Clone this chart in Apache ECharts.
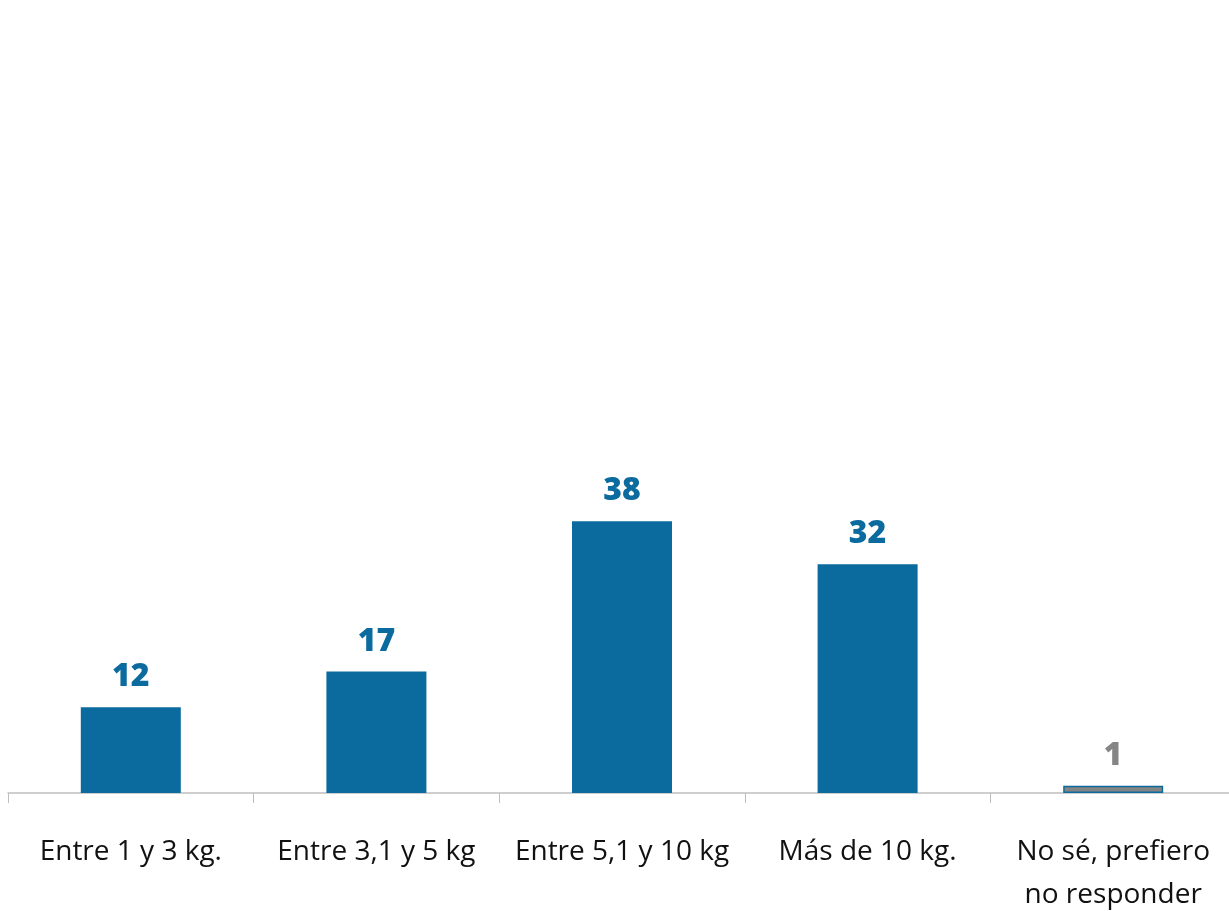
<!DOCTYPE html>
<html>
<head>
<meta charset="utf-8">
<script src="https://cdn.jsdelivr.net/npm/echarts@6/dist/echarts.min.js"></script>
<style>
  html, body { margin: 0; padding: 0; background: #fff; }
  #chart { width: 1229px; height: 911px; }
</style>
</head>
<body>
<div id="chart"></div>
<script>
// datos del gráfico
const categories = ['Entre 1 y 3 kg.', 'Entre 3,1 y 5 kg', 'Entre 5,1 y 10 kg', 'Más de 10 kg.', 'No sé, prefiero\nno responder'];
const values = [12, 17, 38, 32, 1];

const blue = '#0B6A9E';
const grey = '#858585';

const seriesData = values.map((v, i) => {
    if (i === values.length - 1) {
        return {
            value: v,
            itemStyle: {color: grey, borderColor: blue, borderWidth: 1.5},
            label: {color: grey}
        };
    }
    return v;
});

let myChart = echarts.init(document.getElementById('chart'));
myChart.setOption({
    animation: false,
    grid: {left: 8, top: 78, width: 1228, bottom: 118, containLabel: false, outerBoundsMode: 'none'},
    xAxis: {
        type: 'category',
        data: categories,
        axisLine: {lineStyle: {color: '#BFBFBF', width: 1.5}},
        axisTick: {show: true, length: 10, lineStyle: {color: '#BFBFBF'}},
        axisLabel: {
            color: '#111',
            fontFamily: 'Open Sans',
            fontSize: 28,
            lineHeight: 43,
            margin: 38,
            interval: 0
        }
    },
    yAxis: {
        type: 'value',
        min: 0,
        max: 100,
        show: false,
        splitLine: {show: false}
    },
    series: [{
        type: 'bar',
        data: seriesData,
        barWidth: 100,
        itemStyle: {color: blue},
        label: {
            show: true,
            position: 'top',
            distance: 14,
            color: blue,
            fontFamily: 'Open Sans',
            fontWeight: 800,
            fontSize: 32
        }
    }]
});
</script>
</body>
</html>
